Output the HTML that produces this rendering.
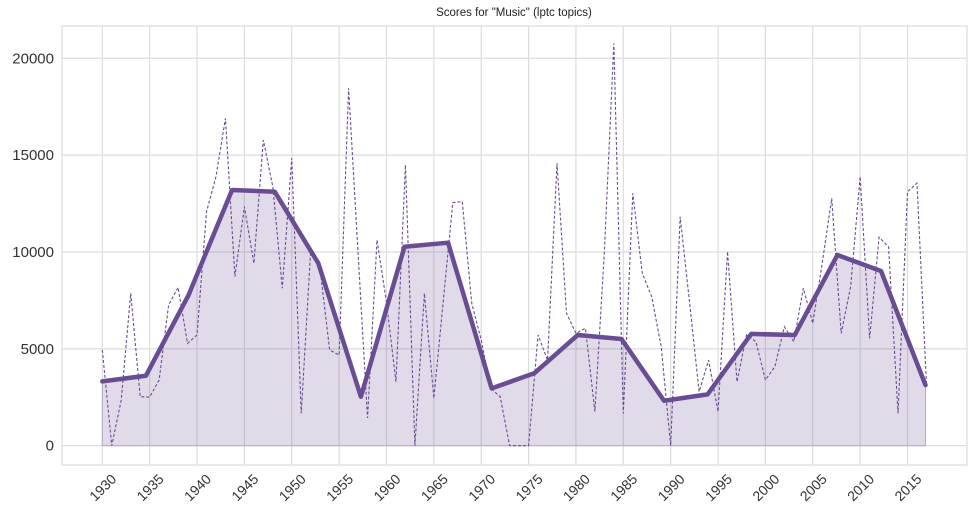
<!DOCTYPE html>
<html><head><meta charset="utf-8">
<style>
body{margin:0;background:#fff;}
svg{display:block;font-family:"Liberation Sans",Arial,sans-serif;}
</style></head>
<body>
<svg id="chart" width="975" height="517" viewBox="0 0 975 517">
<text x="514" y="16" text-anchor="middle" font-size="11.5" fill="#222">Scores for "Music" (lptc topics)</text>
<rect x="62" y="26" width="905" height="439" fill="none" stroke="#dcdcdc" stroke-width="1.2"/>
<g id="grid"></g>
<g id="series"></g>
<g id="axes"></g>
</svg>
<script>
const annualYears = [];
for (let y = 1930; y <= 2017; y++) annualYears.push(y);
const annualValues = [4940,0,2360,7870,2530,2510,3390,7260,8170,5280,
5720,12080,13890,16900,8730,12340,9420,15780,13370,8130,
14840,1670,10100,9070,4940,4680,18450,9940,1430,10620,
7400,3300,14490,0,7870,2450,7500,12550,12600,7350,
5460,2960,2530,0,0,0,5715,4420,14580,6840,
5800,6060,1760,10000,20770,1670,13030,8900,7690,5110,
0,11820,7370,2790,4420,1760,10020,3300,5715,5370,
3390,4080,6140,5370,8130,6320,9430,12770,5800,8210,
13890,5540,10760,10270,1670,13110,13550,3220];
const smoothYears = [1930,1934.6,1939.1,1943.7,1948.2,1952.8,1957.3,1961.9,1966.5,1971.1,1975.6,1980.2,1984.8,1989.3,1993.9,1998.5,2003.1,2007.6,2012.2,2016.9];
const smoothValues = [3320,3610,7770,13200,13110,9420,2530,10270,10480,2960,3740,5715,5510,2320,2650,5770,5715,9845,9020,3130];
const xTicks = [1930,1935,1940,1945,1950,1955,1960,1965,1970,1975,1980,1985,1990,1995,2000,2005,2010,2015];
const yTicks = [0,5000,10000,15000,20000];

const NS = "http://www.w3.org/2000/svg";
function xs(yr){ return 102.3 + (yr - 1930) * 9.473; }
function ys(v){ return 445.7 - v * 0.019372; }
function mk(tag, attrs, parent){
  const e = document.createElementNS(NS, tag);
  for (const k in attrs) e.setAttribute(k, attrs[k]);
  parent.appendChild(e);
  return e;
}
const grid = document.getElementById('grid');
const axes = document.getElementById('axes');
const series = document.getElementById('series');
xTicks.forEach(t => {
  const l = mk('line', {x1: xs(t), x2: xs(t), y1: 26, y2: 465, stroke: '#dcdcdc', 'stroke-width': 1.2}, grid);
  
  
  const tx = mk('text', {x: xs(t) + 15, y: 480, 'text-anchor': 'end', 'font-size': 14, fill: '#333', transform: `rotate(-45 ${xs(t)+15} 480)`}, axes);
  tx.textContent = t;
  
  
});
yTicks.forEach(t => {
  const l = mk('line', {x1: 62, x2: 967, y1: ys(t), y2: ys(t), stroke: '#dcdcdc', 'stroke-width': 1.2}, grid);
  
  
  const tx = mk('text', {x: 54, y: ys(t) + 5, 'text-anchor': 'end', 'font-size': 15, fill: '#333'}, axes);
  tx.textContent = t;
  
  
});
// area fill
let d = `M${xs(smoothYears[0])},${ys(0)}`;
smoothYears.forEach((yr, i) => { d += ` L${xs(yr)},${ys(smoothValues[i])}`; });
d += ` L${xs(smoothYears[smoothYears.length-1])},${ys(0)} Z`;
const area = mk('path', {d: d, fill: '#6a4c93', 'fill-opacity': 0.2, stroke: '#b8aacb', 'stroke-width': 1}, series);


// dashed annual line
const dash = mk('polyline', {points: annualYears.map((yr, i) => `${xs(yr)},${ys(annualValues[i])}`).join(' '), fill: 'none', stroke: '#6a4c93', 'stroke-width': 1.1, 'stroke-dasharray': '3,2'}, series);


// thick smoothed line
const thick = mk('polyline', {points: smoothYears.map((yr, i) => `${xs(yr)},${ys(smoothValues[i])}`).join(' '), fill: 'none', stroke: '#6a4c93', 'stroke-width': 4.5, 'stroke-linejoin': 'round', 'stroke-linecap': 'round'}, series);


</script>
</body></html>
